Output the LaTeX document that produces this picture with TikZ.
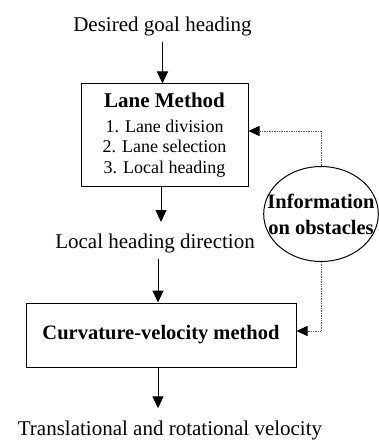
\documentclass[tikz,border=0pt]{standalone}
\usepackage{fontspec}
\setmainfont{Liberation Serif}
\usetikzlibrary{arrows.meta,shapes.geometric}
\begin{document}
\begin{tikzpicture}[x=1pt,y=-1pt,
  lbl/.style={inner xsep=0pt, inner ysep=4pt, font=\fontsize{21}{24}\selectfont},
  boxn/.style={draw, line width=1pt, inner sep=0pt},
  arr/.style={line width=1pt, -{Triangle[width=11pt,length=12pt]}},
  dotarr/.style={line width=0.7pt, densely dotted, black!65, -{Triangle[width=10pt,length=11pt,color=black]}},
]
\useasboundingbox[fill=white] (0,0) rectangle (379,441);
\node[lbl] (goal) at (162.5,26) {Desired goal heading};
\node[boxn, minimum width=167pt, minimum height=102pt, align=center,
      font=\fontsize{18}{20.5}\selectfont] (lane) at (164.5,135)
  {{\fontsize{21}{22}\selectfont\bfseries Lane Method}\\[4pt]
   1. Lane division\\ 2. Lane selection\\ 3. Local heading};
\node[lbl] (local) at (155,243) {Local heading direction};
\node[boxn, minimum width=270pt, minimum height=64pt,
      font=\fontsize{20.5}{24}\selectfont\bfseries] (cv) at (161,335)
  {Curvature-velocity method};
\node[lbl] (vel) at (170,430) {Translational and rotational velocity};
\node[draw, ellipse, line width=1pt, inner xsep=-13pt, inner ysep=0pt,
      minimum width=114pt, minimum height=95pt, align=center,
      font=\fontsize{20.5}{26}\selectfont\bfseries] (info) at (321,214)
  {Information\\on obstacles};

\draw[arr, shorten <=2pt] (goal.south) -- (goal.south |- lane.north);
\draw[arr] (lane.south -| 161,0) -- (161,222) coordinate (lt);
\draw[arr, shorten <=2pt] (local.south -| 158,0) -- (158,0 |- cv.north);
\draw[arr, shorten >=8pt] (cv.south -| 158,0) -- (158,0 |- vel.north);
\draw[dotarr] (info.north) |- ([yshift=4pt]lane.east);
\draw[dotarr] (info.south) |- ([yshift=4pt]cv.east);
\end{tikzpicture}
\end{document}
